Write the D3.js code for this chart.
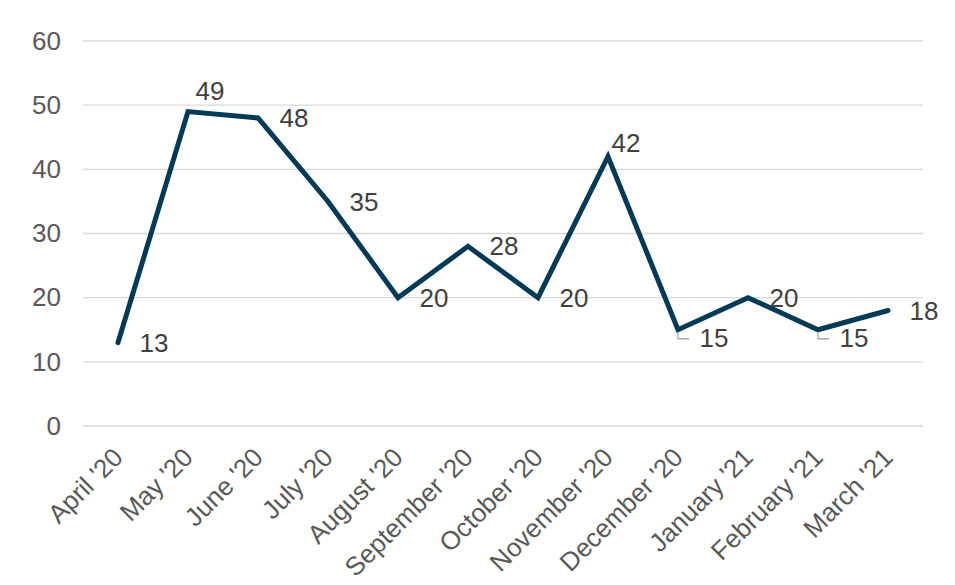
<!DOCTYPE html>
<html>
<head>
  <script src="https://cdn.jsdelivr.net/npm/d3@7"></script>
  <style>
    body { margin: 0; background: #fff; }
    text { font-family: "Liberation Sans", Arial, sans-serif; }
  </style>
</head>
<body>
  <svg width="955" height="585"></svg>
<script>
  const months = ["April '20", "May '20", "June '20", "July '20", "August '20", "September '20",
    "October '20", "November '20", "December '20", "January '21", "February '21", "March '21"];
  const values = [13, 49, 48, 35, 20, 28, 20, 42, 15, 20, 15, 18];
  const yTicks = [0, 10, 20, 30, 40, 50, 60];

  const plotLeft = 83, plotRight = 923, plotTop = 41, plotBottom = 426;

  const svg = d3.select('svg');

  const x = d3.scalePoint()
    .domain(months)
    .range([plotLeft, plotRight])
    .padding(0.5);

  const y = d3.scaleLinear()
    .domain([0, 60])
    .range([plotBottom, plotTop]);

  // gridlines
  svg.append('g')
    .selectAll('line')
    .data(yTicks)
    .enter()
    .append('line')
    .attr('x1', plotLeft)
    .attr('x2', plotRight)
    .attr('y1', d => y(d))
    .attr('y2', d => y(d))
    .attr('stroke', '#d9d9d9')
    .attr('stroke-width', 1.3);

  // y axis
  const yAxis = svg.append('g')
    .attr('transform', `translate(${plotLeft - 22}, 0)`)
    .call(d3.axisLeft(y).tickValues(yTicks).tickSize(0).tickPadding(0));
  yAxis.select('.domain').remove();
  yAxis.selectAll('text')
    .attr('fill', '#595959')
    .style('font-size', '26px')
    .style('font-family', '"Liberation Sans", Arial, sans-serif');

  // x axis
  const xAxis = svg.append('g')
    .attr('transform', `translate(0, ${plotBottom})`)
    .call(d3.axisBottom(x).tickSize(0).tickPadding(0));
  xAxis.select('.domain').remove();
  xAxis.selectAll('text')
    .attr('fill', '#595959')
    .style('font-size', '26px')
    .style('font-family', '"Liberation Sans", Arial, sans-serif')
    .attr('text-anchor', 'end')
    .attr('dy', 0)
    .attr('transform', 'translate(6, 33) rotate(-45)');

  // line
  const line = d3.line()
    .x((d, i) => x(months[i]))
    .y(d => y(d));

  svg.append('path')
    .datum(values)
    .attr('d', line)
    .attr('fill', 'none')
    .attr('stroke', '#003a57')
    .attr('stroke-width', 5)
    .attr('stroke-linejoin', 'miter')
    .attr('stroke-linecap', 'round');

  // label placement: peaks go above, dips with leaders go below-right
  const place = (d, i) => {
    if (i === 1) return { dx: 22, dy: -21 };
    if (i === 7) return { dx: 18, dy: -14 };
    if (i === 8 || i === 10) return { dx: 36, dy: 8 };
    return { dx: 36, dy: 0 };
  };

  // leader lines
  [8, 10].forEach(i => {
    const px = x(months[i]), py = y(values[i]);
    svg.append('path')
      .attr('d', `M${px},${py + 2}V${py + 9}H${px + 11}`)
      .attr('fill', 'none')
      .attr('stroke', '#a6a6a6')
      .attr('stroke-width', 1.3);
  });

  svg.append('g')
    .selectAll('text')
    .data(values)
    .enter()
    .append('text')
    .attr('x', (d, i) => x(months[i]) + place(d, i).dx)
    .attr('y', (d, i) => y(d) + place(d, i).dy)
    .attr('dy', '0.35em')
    .attr('text-anchor', 'middle')
    .attr('fill', '#404040')
    .style('font-size', '26px')
    .text(d => d);
</script>
</body>
</html>
